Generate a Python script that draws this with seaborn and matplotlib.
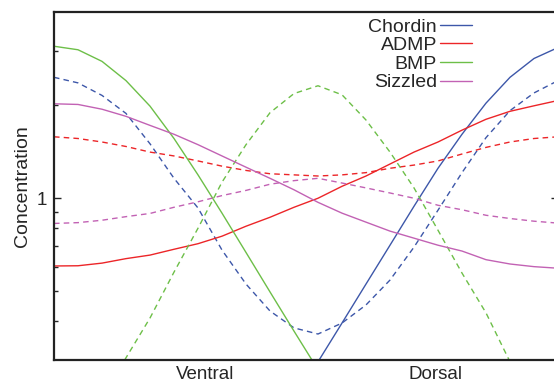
import numpy as np
import pandas as pd
import matplotlib
matplotlib.use("Agg")
import matplotlib.pyplot as plt
from matplotlib.lines import Line2D
from matplotlib.ticker import FixedLocator, NullFormatter
import seaborn as sns

# position along the ventral -> dorsal axis (grid index)
position = np.arange(22)

# solid lines
chordin = [0.032, 0.034, 0.038, 0.045, 0.055, 0.07, 0.09, 0.12, 0.16, 0.17, 0.222,
           0.296, 0.395, 0.528, 0.705, 0.942, 1.25, 1.61, 2.03, 2.46, 2.83, 3.07]
admp = [0.604, 0.605, 0.617, 0.638, 0.655, 0.684, 0.713, 0.754, 0.812, 0.868, 0.935,
        1.0, 1.093, 1.18, 1.29, 1.41, 1.52, 1.66, 1.80, 1.91, 1.99, 2.07]
bmp = [3.10, 3.02, 2.77, 2.40, 1.985, 1.56, 1.19, 0.895, 0.668, 0.498, 0.372,
       0.279, 0.21, 0.16, 0.12, 0.09, 0.07, 0.055, 0.045, 0.038, 0.034, 0.032]
sizzled = [2.02, 2.01, 1.94, 1.84, 1.72, 1.61, 1.49, 1.37, 1.26, 1.16, 1.065,
           0.97, 0.895, 0.837, 0.783, 0.743, 0.705, 0.675, 0.633, 0.613, 0.601, 0.594]

# dashed lines
chordin_d = [2.46, 2.36, 2.15, 1.88, 1.50, 1.16, 0.93, 0.68, 0.528, 0.432, 0.381,
             0.364, 0.395, 0.452, 0.544, 0.695, 0.915, 1.21, 1.57, 1.92, 2.19, 2.40]
admp_d = [1.58, 1.56, 1.52, 1.47, 1.41, 1.37, 1.32, 1.27, 1.23, 1.20, 1.19,
          1.18, 1.19, 1.21, 1.25, 1.28, 1.32, 1.39, 1.46, 1.52, 1.56, 1.58]
bmp_d = [0.125, 0.168, 0.226, 0.305, 0.410, 0.577, 0.80, 1.127, 1.49, 1.89, 2.18,
         2.31, 2.16, 1.79, 1.41, 1.08, 0.788, 0.573, 0.426, 0.296, 0.223, 0.166]
sizzled_d = [0.829, 0.834, 0.849, 0.872, 0.893, 0.935, 0.974, 1.02, 1.06, 1.11, 1.14,
             1.16, 1.12, 1.08, 1.04, 1.00, 0.949, 0.918, 0.881, 0.86, 0.843, 0.831]

genes = ['Chordin', 'ADMP', 'BMP', 'Sizzled']
colors = ['#3d57a9', '#ec2528', '#6dbf48', '#c262b4']
tick_pos = [6.3, 15.9]
tick_labels = ['Ventral', 'Dorsal']

frames = []
for g, s, d in zip(genes, [chordin, admp, bmp, sizzled],
                   [chordin_d, admp_d, bmp_d, sizzled_d]):
    frames.append(pd.DataFrame({'x': position, 'value': s, 'gene': g, 'kind': 'solid'}))
    frames.append(pd.DataFrame({'x': position, 'value': d, 'gene': g, 'kind': 'dashed'}))
df = pd.concat(frames, ignore_index=True)

sns.set_style('white')
plt.rcParams['font.family'] = ['Liberation Sans', 'DejaVu Sans']

fig = plt.figure(figsize=(5.54, 3.84), dpi=100)
ax = fig.add_axes([54 / 554, 1 - 360 / 384, 504 / 554, 348 / 384])

sns.lineplot(data=df, x='x', y='value', hue='gene', style='kind',
             palette=dict(zip(genes, colors)), hue_order=genes,
             dashes={'solid': '', 'dashed': (4, 3)}, linewidth=1.0,
             legend=False, ax=ax, sort=True, estimator=None)

ax.set_yscale('log')
ax.set_xlim(0, 21)
ax.set_ylim(0.3, 4)
ax.yaxis.set_major_locator(FixedLocator([1]))
ax.yaxis.set_minor_locator(FixedLocator([0.4, 0.5, 0.6, 0.7, 0.8, 0.9, 2, 3]))
ax.yaxis.set_minor_formatter(NullFormatter())
ax.set_yticklabels(['1'])
ax.set_xticks(tick_pos)
ax.set_xticklabels(tick_labels)
ax.tick_params(axis='x', length=0, labelsize=13.5, pad=4)
ax.tick_params(axis='y', which='major', direction='in', length=5, width=1,
               labelsize=13.5, right=True, left=True, pad=5)
ax.tick_params(axis='y', which='minor', direction='in', length=3, width=1,
               right=True, left=True)
ax.set_xlabel('')
ax.set_ylabel('Concentration', fontsize=14, labelpad=4)
for sp in ax.spines.values():
    sp.set_linewidth(1.6)
    sp.set_color('#222222')

handles = [Line2D([], [], color=c, lw=1.0) for c in colors]
ax.legend(handles, genes, loc='upper right', bbox_to_anchor=(472 / 554, 1 - 18 / 384),
          bbox_transform=fig.transFigure, frameon=False, markerfirst=False,
          fontsize=14, handlelength=1.65, handletextpad=0.15, labelspacing=0.05,
          borderpad=0, borderaxespad=0)

fig.savefig('out.png', dpi=100)
